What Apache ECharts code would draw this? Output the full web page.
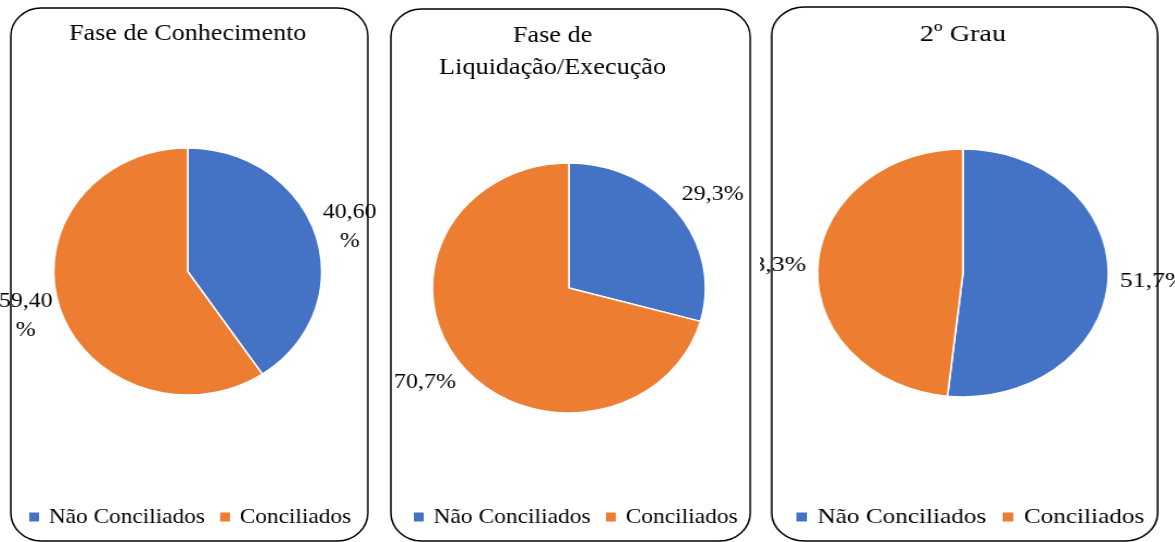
<!DOCTYPE html>
<html>
<head>
<meta charset="utf-8">
<script src="https://cdn.jsdelivr.net/npm/echarts@6/dist/echarts.min.js"></script>
<style>
  html, body { margin: 0; padding: 0; background: #fff; overflow: hidden; }
  .panel { position: absolute; top: 0; height: 542px; transform-origin: 0 0; }
</style>
</head>
<body>
<div id="p1" class="panel" style="left:0;width:355px;transform:scaleX(1.085)"></div>
<div id="p2" class="panel" style="left:380px;width:350px;transform:scaleX(1.092)"></div>
<div id="p3" class="panel" style="left:760px;width:354px;transform:scaleX(1.173)"></div>
<script>
// categorias e valores (%)
const categories = ['Não Conciliados', 'Conciliados']
const titles = ['Fase de Conhecimento', 'Fase de\nLiquidação/Execução', '2º Grau']
const conhecimento = [40.6, 59.4]
const liquidacao = [29.3, 70.7]
const segundoGrau = [51.7, 48.3]
const decimals = [2, 1, 1]
const colors = ['#4472C4', '#ED7D31']

const serif = "'Liberation Serif', 'Times New Roman', serif"

const panels = [
  { id: 'p1', values: conhecimento, titleX: 173, titleTop: 18, borderTop: 8, cy: 271.5, r: 123.5, legendLeft: 25, labelWidth: 51, labelDist: -23, wrap: true },
  { id: 'p2', values: liquidacao, titleX: 158, titleTop: 20, borderTop: 9, cy: 288, r: 125, legendLeft: 29, labelWidth: 70, labelDist: -20, wrap: false },
  { id: 'p3', values: segundoGrau, titleX: 173, titleTop: 19, borderTop: 7, cy: 273, r: 124, legendLeft: 29, labelWidth: 70, labelDist: -20, wrap: false }
]

const labelText = { fontFamily: serif, fontSize: 22, lineHeight: 29, color: '#000' }

panels.forEach((p, i) => {
  const chart = echarts.init(document.getElementById(p.id))
  const pieData = categories.map((name, k) => ({ name: name, value: p.values[k] }))

  const option = {
    animation: false,
    color: colors,
    title: {
      text: titles[i],
      left: p.titleX,
      top: p.titleTop,
      textAlign: 'center',
      padding: 0,
      textStyle: { fontFamily: serif, fontSize: 24, fontWeight: 'normal', color: '#000', lineHeight: 32 }
    },
    legend: {
      left: p.legendLeft,
      top: 506,
      padding: 0,
      icon: 'rect',
      itemWidth: 11,
      itemHeight: 11,
      itemGap: 12,
      selectedMode: false,
      textStyle: { fontFamily: serif, fontSize: 21.5, color: '#000', lineHeight: 22, padding: [0, 0, 0, 3] },
      data: categories
    },
    graphic: [
      {
        type: 'rect',
        shape: { x: 10, y: p.borderTop, width: 329, height: 541 - p.borderTop, r: 28 },
        style: { fill: 'none', stroke: '#000', lineWidth: 1.5 },
        silent: true
      }
    ],
    series: [
      {
        type: 'pie',
        center: [173, p.cy],
        radius: p.r,
        startAngle: 90,
        clockwise: true,
        data: pieData,
        itemStyle: { borderColor: '#fff', borderWidth: 1.5 },
        label: {
          show: true,
          position: 'outside',
          formatter: (d) => {
            const txt = d.value.toFixed(decimals[i]).replace('.', ',') + '%'
            // no 1º painel o rótulo quebra em duas linhas centradas
            return p.wrap ? '{c|' + txt + '}' : txt
          },
          ...labelText,
          rich: { c: { ...labelText, align: 'center' } },
          width: p.labelWidth,
          overflow: 'breakAll',
          distanceToLabelLine: p.labelDist
        },
        labelLine: { show: false, length: 30, length2: 0 },
        emphasis: { disabled: true }
      }
    ]
  }

  chart.setOption(option)
})
</script>
</body>
</html>
